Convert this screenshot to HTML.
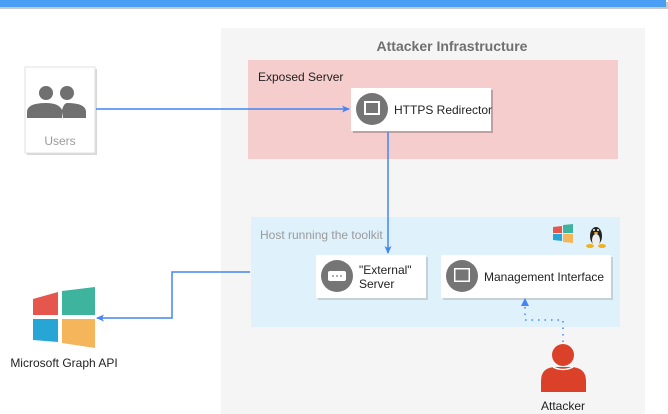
<!DOCTYPE html>
<html><head><meta charset="utf-8"><style>
html,body{margin:0;padding:0;background:#fff;width:668px;height:414px;overflow:hidden}
svg{display:block}
text{font-family:"Liberation Sans",Arial,sans-serif}
</style></head><body>
<svg width="668" height="414" viewBox="0 0 668 414" xmlns="http://www.w3.org/2000/svg">
<defs>
<marker id="ah" markerWidth="8" markerHeight="8" refX="7" refY="4" orient="auto" markerUnits="userSpaceOnUse">
<path d="M0,0.5 L8,4 L0,7.5 L2,4 Z" fill="#4285f4"/></marker>
</defs>
<!-- top bar -->
<rect x="0" y="2" width="668" height="7" fill="#c8c8c8"/>
<rect x="0" y="0" width="666" height="7" fill="#4a9ff5"/>
<!-- attacker infra -->
<rect x="221" y="28" width="424" height="386" fill="#f5f5f5"/>
<text x="452" y="51" font-size="14" font-weight="bold" fill="#707070" text-anchor="middle">Attacker Infrastructure</text>
<!-- exposed server -->
<rect x="248" y="60" width="370" height="99" fill="#f6cdcd"/>
<text x="258" y="81" font-size="12" fill="#222">Exposed Server</text>
<!-- host -->
<rect x="251" y="217" width="369" height="110" fill="#dff2fc"/>
<text x="260" y="239" font-size="12" fill="#9a9a9a">Host running the toolkit</text>
<!-- users -->
<rect x="27" y="69" width="70" height="86" fill="#d8d8d8"/>
<rect x="25" y="67" width="70" height="86" fill="#fff" stroke="#e0e0e0"/>
<circle cx="46" cy="93" r="7" fill="#707070"/>
<circle cx="67" cy="93" r="7" fill="#707070"/>
<path d="M27,118 L27,112 Q27,103 46,103 Q59,103 62,110 Q64,103 67,103 Q86,103 86,112 L86,118 L63,118 L63,112 L62,118 Z" fill="#707070"/>
<text x="60" y="145" font-size="12" fill="#9a9a9a" text-anchor="middle">Users</text>
<!-- https redirector -->
<rect x="353" y="90" width="140" height="43" fill="#c0a0a0"/>
<rect x="351" y="88" width="140" height="43" fill="#fff"/>
<circle cx="372" cy="109" r="16" fill="#757575"/>
<rect x="364" y="101" width="16" height="14" fill="#fff"/>
<rect x="366" y="103" width="12" height="10" fill="#757575"/>
<text x="394" y="114" font-size="12" fill="#222">HTTPS Redirector</text>
<!-- external server -->
<rect x="318" y="257" width="110" height="43" fill="#c5d0d8"/>
<rect x="316" y="255" width="110" height="43" fill="#fff"/>
<circle cx="337" cy="276" r="16" fill="#757575"/>
<rect x="328" y="271" width="18" height="10" rx="2" fill="#fff"/>
<circle cx="333" cy="276" r="0.9" fill="#757575"/><circle cx="337" cy="276" r="0.9" fill="#757575"/><circle cx="341" cy="276" r="0.9" fill="#757575"/>
<text x="359" y="274" font-size="12" fill="#222">"External"</text>
<text x="359" y="288" font-size="12" fill="#222">Server</text>
<!-- management interface -->
<rect x="443" y="257" width="170" height="43" fill="#c5d0d8"/>
<rect x="441" y="255" width="170" height="43" fill="#fff"/>
<circle cx="462" cy="276" r="16" fill="#757575"/>
<rect x="454" y="268" width="16" height="14" fill="#fff"/>
<rect x="455.5" y="269.5" width="13" height="11" fill="#757575"/>
<text x="484" y="281" font-size="12" fill="#222">Management Interface</text>
<!-- small windows icon -->
<polygon points="553,227 562,226 562,233 553,233" fill="#e5564c"/>
<polygon points="563,225 573,224 573,233 563,233" fill="#3eb39d"/>
<polygon points="553,234 562,234 562,241 553,240" fill="#27a5d4"/>
<polygon points="563,234 573,234 573,243 563,242" fill="#f5b55a"/>
<!-- tux -->
<ellipse cx="596" cy="236" rx="6" ry="9" fill="#222"/>
<ellipse cx="596" cy="240" rx="4" ry="6" fill="#eee"/>
<circle cx="594" cy="230" r="1" fill="#fff"/><circle cx="598" cy="230" r="1" fill="#fff"/>
<ellipse cx="596" cy="233" rx="2" ry="1" fill="#f2b01e"/>
<ellipse cx="590" cy="246" rx="4" ry="2" fill="#f2b01e"/>
<ellipse cx="602" cy="246" rx="4" ry="2" fill="#f2b01e"/>
<!-- MS Graph logo -->
<polygon points="33,299 58,292 58,315 33,315" fill="#e5564c"/>
<polygon points="62,291 95,287 95,315 62,315" fill="#3eb39d"/>
<polygon points="33,319 58,319 58,342 33,340" fill="#27a5d4"/>
<polygon points="62,319 95,319 95,348 62,343" fill="#f5b55a"/>
<text x="64" y="367" font-size="12" fill="#222" text-anchor="middle">Microsoft Graph API</text>
<!-- attacker -->
<circle cx="563" cy="355" r="11" fill="#db4129"/>
<path d="M541,392 L541,381 Q541,367 556,367 L570,367 Q586,367 586,381 L586,392 Z" fill="#db4129"/>
<path d="M553,367 Q563,372 573,367" stroke="#fff" stroke-width="1.5" fill="none"/>
<text x="563" y="410" font-size="12" fill="#222" text-anchor="middle">Attacker</text>
<!-- connectors -->
<line x1="96" y1="109" x2="349" y2="109" stroke="#4285f4" stroke-width="1.5" marker-end="url(#ah)"/>
<line x1="388" y1="132" x2="388" y2="253" stroke="#4285f4" stroke-width="1.5" marker-end="url(#ah)"/>
<polyline points="250,272 172,272 172,318 97,318" fill="none" stroke="#4285f4" stroke-width="1.5" marker-end="url(#ah)"/>
<polyline points="563,342 563,320 525,320 525,302" fill="none" stroke="#4285f4" stroke-width="1.5" stroke-dasharray="1.5,5"/>
<path d="M521,306 L525,298 L529,306 Z" fill="#4285f4"/>
</svg>
</body></html>
